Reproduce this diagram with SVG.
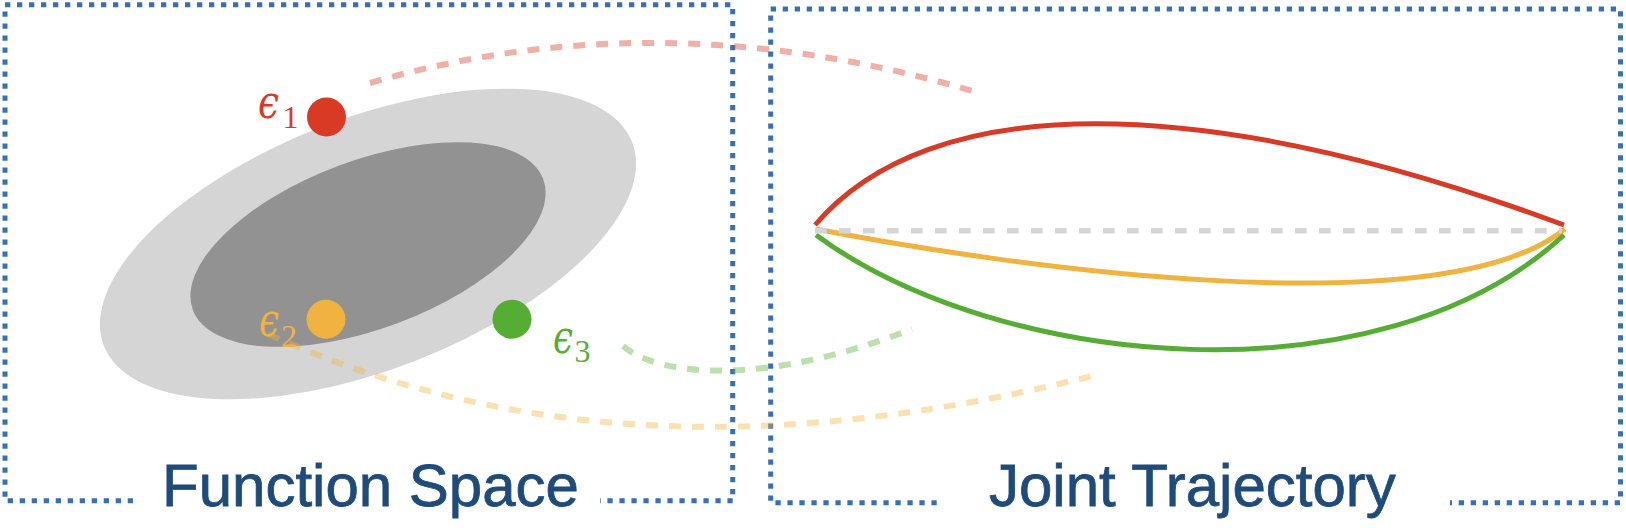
<svg xmlns="http://www.w3.org/2000/svg" width="1626" height="528" viewBox="0 0 1626 528">
<style>
.border{fill:none;stroke:#3771b4;stroke-width:5;stroke-dasharray:5.3 6.7}
.title{font-family:"Liberation Sans",Arial,sans-serif;font-size:60px;fill:#1f4b7b;stroke:#1f4b7b;stroke-width:0.8}
.eps{font-family:"DejaVu Serif","Liberation Serif",serif;font-style:italic;font-size:47px}
.sub{font-family:"Liberation Serif","DejaVu Serif",serif;font-style:normal;font-size:32px}
.link{fill:none;stroke-width:6;stroke-dasharray:12 11;stroke-opacity:0.4}
.traj{fill:none;stroke-width:5;stroke-linecap:butt}
.red{stroke:#d93a26}
.yellow{stroke:#f0b33f}
.green{stroke:#55ae33}
</style>
<rect width="1626" height="528" fill="#ffffff"/>
<g id="function-space-panel">
  <path class="border" d="M5 4.7 H732.7 V500.7 M732.7 500.7 H600 M133 500.7 H5 V4.7"/>
  <text class="title" x="162" y="506">Function Space</text>
</g>
<g id="joint-trajectory-panel">
  <path class="border" d="M770.7 9 H1620.5 V502.7 H1450 M936.7 502.7 H770.7 V9"/>
  <text class="title" x="989" y="506">Joint Trajectory</text>
</g>
<g id="distribution">
  <ellipse cx="368" cy="244" rx="283" ry="126" transform="rotate(-21 368 244)" fill="#d5d5d5"/>
  <ellipse cx="368" cy="244.5" rx="187" ry="84" transform="rotate(-20.5 368 244.5)" fill="#929292"/>
</g>
<g id="sample-1">
  <circle cx="326.5" cy="117" r="19.5" fill="#d93a26"/>
  <text class="eps" x="258" y="118.3" fill="#d93a26" textLength="21" lengthAdjust="spacingAndGlyphs">ϵ</text>
  <text class="sub" x="282.5" y="127.7" fill="#d93a26">1</text>
</g>
<g id="sample-2">
  <circle cx="326" cy="319.3" r="19.5" fill="#f0b33f"/>
  <text class="eps" x="259" y="336" fill="#f0b33f" textLength="20" lengthAdjust="spacingAndGlyphs">ϵ</text>
  <text class="sub" x="281" y="347.3" fill="#f0b33f">2</text>
</g>
<g id="sample-3">
  <circle cx="512" cy="319.3" r="19.5" fill="#55ae33"/>
  <text class="eps" x="553" y="352.5" fill="#55ae33" textLength="20" lengthAdjust="spacingAndGlyphs">ϵ</text>
  <text class="sub" x="574.5" y="361.7" fill="#55ae33">3</text>
</g>
<g id="trajectories">
  <path class="traj red" d="M815 225 C930 90 1200 90 1564 225"/>
  <path class="traj yellow" d="M816 229 C1000 265 1440 330 1565 229"/>
  <path class="traj green" d="M816 235 C1000 370 1380 405 1564 235"/>
  <path fill="none" stroke="#d5d5d5" stroke-width="5.5" stroke-dasharray="11.7 12.3" d="M815 230.7 H1562"/>
</g>
<g id="connectors">
  <path class="link red" d="M370 83 Q658 -1 973 91"/>
  <path class="link yellow" d="M268 334 C525 450 800 450 1100 374"/>
  <path class="link green" d="M623 346 C660 378 770 385 912 329"/>
</g>
</svg>
